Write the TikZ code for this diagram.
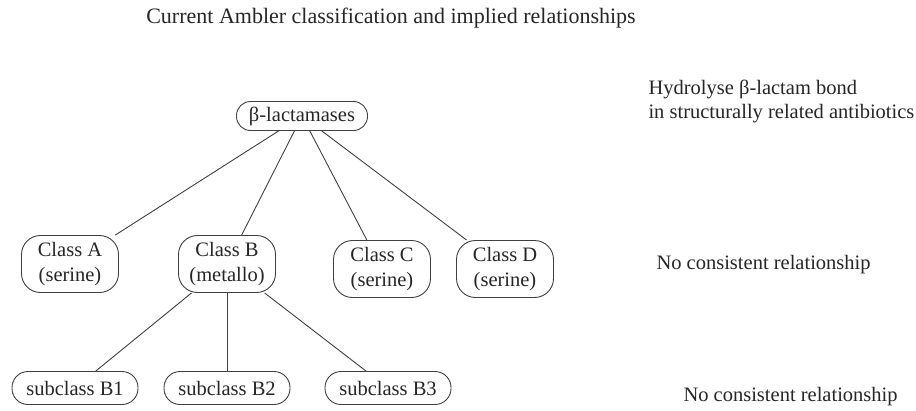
\documentclass[tikz,border=0pt]{standalone}
\usepackage{fontspec}
\setmainfont{Liberation Serif}
\begin{document}
\begin{tikzpicture}[
    x=1pt, y=1pt,
    font=\fontsize{20.5}{24}\selectfont,
    text=black!85,
    level distance=148pt,
    level 1/.style={sibling distance=150pt},
    level 2/.style={sibling distance=156pt, level distance=124pt},
    enzyme/.style={draw=black!75, line width=0.9pt, rounded corners=14pt,
        align=center, inner xsep=6pt, inner ysep=2pt},
    family/.style={enzyme, rounded corners=19pt, minimum width=97pt, minimum height=57pt},
    subfamily/.style={enzyme, rounded corners=16pt, minimum width=126pt, minimum height=33pt},
    edge from parent/.style={draw=black!75, line width=0.9pt, -}
]
\useasboundingbox (0,0) rectangle (916,-410);
\node (title) at (391,-18) {\fontsize{22}{26}\selectfont Current Ambler classification and implied relationships};

\node[enzyme, minimum width=131pt, minimum height=29pt] (bla) at (302,-116) {β-lactamases}
    child[xshift=-7pt] {node[family] (clsA) {Class A\\[1pt](serine)}}
    child {node[family] (clsB) {Class B\\[1pt](metallo)}
        child[xshift=4pt] {node[subfamily] (subB1) {subclass B1}}
        child {node[subfamily] (subB2) {subclass B2}}
        child[xshift=5pt] {node[subfamily] (subB3) {subclass B3}}}
    child[xshift=5pt, yshift=-5pt] {node[family] (clsC) {Class C\\[1pt](serine)}}
    child[xshift=-22pt, yshift=-5pt] {node[family] (clsD) {Class D\\[1pt](serine)}};

% what each level has in common
\node[anchor=west, align=left] (hydro) at (645,-101) {Hydrolyse β-lactam bond\\in structurally related antibiotics};
\node[anchor=west] (noclass) at (653,-265) {No consistent relationship};
\node[anchor=west] (nosub) at (680,-397) {No consistent relationship};
\end{tikzpicture}
\end{document}
